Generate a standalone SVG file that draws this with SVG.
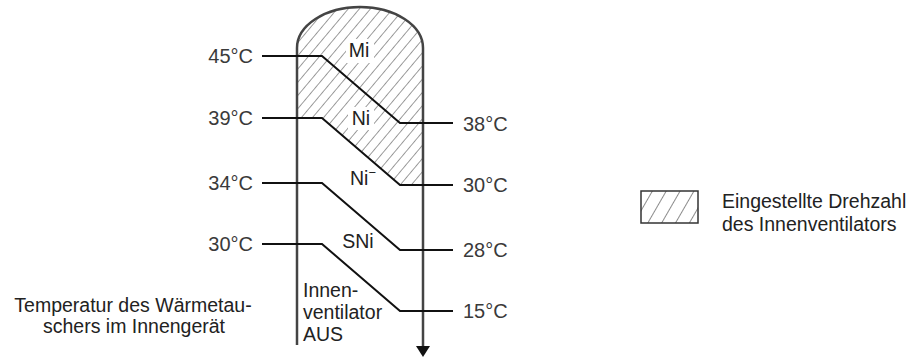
<svg xmlns="http://www.w3.org/2000/svg" width="911" height="357" viewBox="0 0 911 357">
<style>
text{font-family:"Liberation Sans",Arial,sans-serif;font-size:19.5px;fill:#222}
.t{fill:#3a3a3a;font-size:20px}
.ln{stroke:#111;stroke-width:2;fill:none}
.vl{stroke:#444;stroke-width:2.5;fill:none}
</style>
<defs>
<pattern id="h1" patternUnits="userSpaceOnUse" width="8.5" height="8.5" patternTransform="rotate(40)">
<line x1="0" y1="0" x2="0" y2="8.5" stroke="#5a5a5a" stroke-width="1.2"/>
</pattern>
<pattern id="h2" patternUnits="userSpaceOnUse" width="12" height="12" patternTransform="rotate(30)">
<line x1="0" y1="0" x2="0" y2="12" stroke="#5a5a5a" stroke-width="1.4"/>
</pattern>
</defs>
<g id="hatch-zone">
<path d="M297,118 L297,48 A63,41 0 0 1 423,48 L423,185 L400,185 L322,118 Z" fill="url(#h1)"/>
<rect x="346" y="39" width="28" height="24" fill="#fff"/>
<rect x="348" y="107" width="26" height="23" fill="#fff"/>
</g>
<g id="body">
<path class="vl" d="M297,345 L297,48 A63,41 0 0 1 423,48 L423,348"/>
<path d="M416,346 L430,346 L423,357 Z" fill="#111"/>
</g>
<g id="connectors">
<path class="ln" d="M262,56 L322,56 L400,123 L453,123"/>
<path class="ln" d="M262,118 L322,118 L400,185 L453,185"/>
<path class="ln" d="M262,183 L322,183 L400,250 L453,250"/>
<path class="ln" d="M262,244 L322,244 L400,311 L453,311"/>
</g>
<g id="left-temps">
<text class="t" x="253" y="63" text-anchor="end">45°C</text>
<text class="t" x="253" y="125" text-anchor="end">39°C</text>
<text class="t" x="253" y="190" text-anchor="end">34°C</text>
<text class="t" x="253" y="251" text-anchor="end">30°C</text>
</g>
<g id="right-temps">
<text class="t" x="463" y="131">38°C</text>
<text class="t" x="463" y="192">30°C</text>
<text class="t" x="463" y="257">28°C</text>
<text class="t" x="463" y="318">15°C</text>
</g>
<g id="levels">
<text x="359" y="57" text-anchor="middle">Mi</text>
<text x="361" y="125" text-anchor="middle">Ni</text>
<text x="350" y="185">Ni<tspan dy="-8" font-size="13">−</tspan></text>
<text x="358" y="248" text-anchor="middle">SNi</text>
<text x="303" y="297">Innen-</text>
<text x="303" y="319">ventilator</text>
<text x="303" y="341">AUS</text>
</g>
<g id="axis-label">
<text x="133" y="312" text-anchor="middle">Temperatur des Wärmetau-</text>
<text x="134" y="333" text-anchor="middle">schers im Innengerät</text>
</g>
<g id="legend">
<rect x="641" y="191" width="57" height="32" fill="url(#h2)" stroke="#333" stroke-width="1.5"/>
<text x="722" y="208">Eingestellte Drehzahl</text>
<text x="722" y="231">des Innenventilators</text>
</g>
</svg>
